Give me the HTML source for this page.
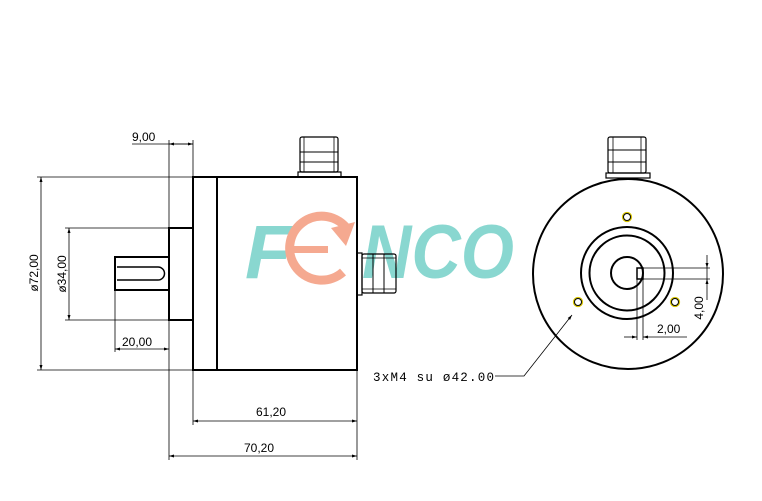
<!DOCTYPE html>
<html><head><meta charset="utf-8"><style>
html,body{margin:0;padding:0;background:#fff;}
svg{display:block;}
</style></head><body>
<svg width="762" height="501" viewBox="0 0 762 501" xmlns="http://www.w3.org/2000/svg" font-family="Liberation Sans, sans-serif">
<defs>
<marker id="a" viewBox="0 0 10 10" refX="10" refY="5" markerWidth="8" markerHeight="5" orient="auto-start-reverse" markerUnits="userSpaceOnUse"><path d="M0,2 L10,5 L0,8 z" fill="#000"/></marker>
</defs>
<!-- logo -->
<g opacity="0.9">
<text x="245" y="278" font-size="76" font-style="italic" font-weight="bold" fill="#7dd3cb">F</text>
<text x="362" y="278" font-size="76" font-style="italic" font-weight="bold" fill="#7dd3cb" textLength="152" lengthAdjust="spacingAndGlyphs">NCO</text>
<path d="M348,230 A32,32 0 1 0 343,272" fill="none" stroke="#f4a085" stroke-width="9"/>
<path d="M331,228 L355,222 L346,246 z" fill="#f4a085"/>
<rect x="294" y="246" width="34" height="7" fill="#f4a085"/>
</g>
<g fill="none" stroke="#000">
<rect x="193" y="177" width="164" height="193" stroke-width="2"/>
<line x1="217" y1="177" x2="217" y2="370" stroke-width="2"/>
<rect x="169" y="228" width="24" height="92" stroke-width="2"/>
<rect x="115" y="257" width="54" height="33" stroke-width="2"/>
<path d="M117,267 H158 A6.5,6.5 0 0 1 158,280 H117" stroke-width="1.5"/>
<rect x="298" y="172" width="43" height="5" stroke-width="1.2"/>
<rect x="300" y="137" width="38" height="35" rx="2" stroke-width="1.2"/>
<line x1="300" y1="152" x2="338" y2="152" stroke-width="1"/>
<line x1="300" y1="162" x2="338" y2="162" stroke-width="1"/>
<line x1="304" y1="137" x2="304" y2="172" stroke-width="0.8"/>
<line x1="334" y1="137" x2="334" y2="172" stroke-width="0.8"/>
<rect x="357" y="253" width="5" height="42" stroke-width="1.2"/>
<rect x="362" y="254" width="34" height="39" rx="2" stroke-width="1.2"/>
<line x1="373" y1="254" x2="373" y2="293" stroke-width="1"/>
<line x1="384" y1="254" x2="384" y2="293" stroke-width="1"/>
<line x1="362" y1="258" x2="396" y2="258" stroke-width="0.8"/>
<line x1="362" y1="289" x2="396" y2="289" stroke-width="0.8"/>
<g stroke-width="0.8">
<line x1="169" y1="140" x2="169" y2="460"/>
<line x1="193" y1="140" x2="193" y2="177"/>
<line x1="193" y1="370" x2="193" y2="425"/>
<line x1="357" y1="370" x2="357" y2="460"/>
<line x1="37" y1="177" x2="193" y2="177"/>
<line x1="37" y1="370" x2="193" y2="370"/>
<line x1="65" y1="228" x2="169" y2="228"/>
<line x1="65" y1="320" x2="169" y2="320"/>
<line x1="115" y1="290" x2="115" y2="352"/>
<line x1="132" y1="144" x2="193" y2="144"/>
<line x1="169" y1="144" x2="193" y2="144" marker-start="url(#a)" marker-end="url(#a)"/>
<line x1="41" y1="177" x2="41" y2="370" marker-start="url(#a)" marker-end="url(#a)"/>
<line x1="69" y1="228" x2="69" y2="320" marker-start="url(#a)" marker-end="url(#a)"/>
<line x1="115" y1="349" x2="169" y2="349" marker-start="url(#a)" marker-end="url(#a)"/>
<line x1="193" y1="421" x2="357" y2="421" marker-start="url(#a)" marker-end="url(#a)"/>
<line x1="169" y1="456" x2="357" y2="456" marker-start="url(#a)" marker-end="url(#a)"/>
</g>
<circle cx="628" cy="274" r="95" stroke-width="2"/>
<circle cx="627" cy="273" r="46" stroke-width="2"/>
<circle cx="627" cy="273" r="37.5" stroke-width="2"/>
<circle cx="627" cy="273" r="16" stroke-width="2"/>
<rect x="637" y="268" width="6" height="11" stroke-width="1.5"/>
<rect x="606" y="173" width="44" height="5" stroke-width="1.2"/>
<rect x="608" y="137" width="38" height="36" rx="2" stroke-width="1.2"/>
<line x1="608" y1="150" x2="646" y2="150" stroke-width="1"/>
<line x1="608" y1="162" x2="646" y2="162" stroke-width="1"/>
<line x1="613" y1="137" x2="613" y2="173" stroke-width="0.8"/>
<line x1="641" y1="137" x2="641" y2="173" stroke-width="0.8"/>
<g stroke="#d8c400" stroke-width="1.3">
<circle cx="627" cy="217" r="4.5"/>
<circle cx="578" cy="302" r="4.5"/>
<circle cx="675" cy="302" r="4.5"/>
</g>
<circle cx="627" cy="217" r="3.5" stroke-width="1"/>
<circle cx="578" cy="302" r="3.5" stroke-width="1"/>
<circle cx="675" cy="302" r="3.5" stroke-width="1"/>
<g stroke-width="0.8">
<line x1="643" y1="268" x2="710" y2="268"/>
<line x1="643" y1="279" x2="710" y2="279"/>
<line x1="707" y1="255" x2="707" y2="268" marker-end="url(#a)"/>
<line x1="707" y1="300" x2="707" y2="279" marker-end="url(#a)"/>
<line x1="707" y1="268" x2="707" y2="279"/>
<line x1="637" y1="279" x2="637" y2="340"/>
<line x1="643" y1="279" x2="643" y2="340"/>
<line x1="624" y1="337" x2="637" y2="337" marker-end="url(#a)"/>
<line x1="687" y1="337" x2="643" y2="337" marker-end="url(#a)"/>
<polyline points="495,376 524,376 572,315" marker-end="url(#a)"/>
</g>
</g>
<g font-size="12" fill="#000">
<text x="132" y="141">9,00</text>
<text x="122" y="346">20,00</text>
<text x="256" y="416">61,20</text>
<text x="244" y="452">70,20</text>
<text transform="translate(38,273) rotate(-90)" text-anchor="middle">ø72,00</text>
<text transform="translate(66,274) rotate(-90)" text-anchor="middle">ø34,00</text>
<text transform="translate(703,308) rotate(-90)" text-anchor="middle">4,00</text>
<text x="657" y="333">2,00</text>
<text x="373" y="381" style="font-family:'Liberation Mono',monospace" font-size="12.5" textLength="121" lengthAdjust="spacing">3xM4 su ø42.00</text>
</g>
</svg>
</body></html>
